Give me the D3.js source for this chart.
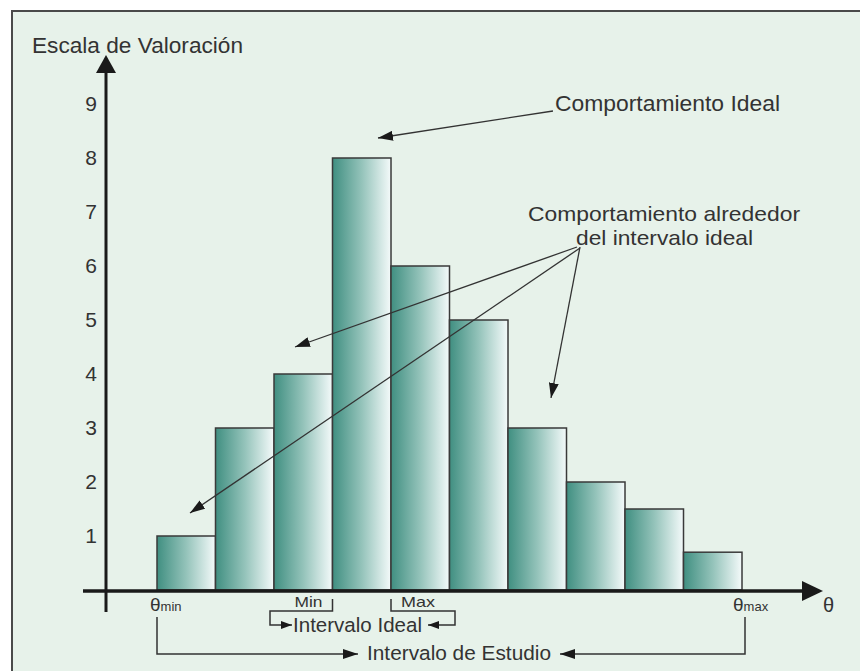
<!DOCTYPE html>
<html>
<head>
<meta charset="utf-8">
<script src="https://cdn.jsdelivr.net/npm/d3@7/dist/d3.min.js"></script>
<style>
  html, body { margin: 0; padding: 0; background: #ffffff; }
  svg { display: block; }
  text { font-family: "Liberation Sans", Arial, Helvetica, sans-serif; fill: #333; }
</style>
</head>
<body>
<svg id="chart" width="860" height="671"></svg>
<script>
// ---- data ----
const categories = ["b1","b2","b3","b4","b5","b6","b7","b8","b9","b10"];
const values = [1, 3, 4, 8, 6, 5, 3, 2, 1.5, 0.7];
const yTicks = [1, 2, 3, 4, 5, 6, 7, 8, 9];
const yTitle = "Escala de Valoración";
const xTitle = "θ";
const noteIdeal = "Comportamiento Ideal";
const noteAround = ["Comportamiento alrededor", "del intervalo ideal"];
const labelIdeal = "Intervalo Ideal";
const labelStudy = "Intervalo de Estudio";

const svg = d3.select("#chart");
const W = 860, H = 671;

// frame & background
svg.append("rect").attr("x", 12).attr("y", 11).attr("width", W).attr("height", H)
  .attr("fill", "#e7f2ea").attr("stroke", "#4a4a4a").attr("stroke-width", 2);

// scales
const x = d3.scaleBand().domain(categories).range([157, 742]).padding(0);
const xc = d3.scaleLinear().domain([0, categories.length]).range([157, 742]); // continuous bin position
const y = d3.scaleLinear().domain([0, 10]).range([590, 50]);

// defs
const defs = svg.append("defs");
const grad = defs.append("linearGradient").attr("id", "barGrad")
  .attr("x1", "0%").attr("x2", "100%").attr("y1", "0%").attr("y2", "0%");
grad.append("stop").attr("offset", "0%").attr("stop-color", "#408f81");
grad.append("stop").attr("offset", "50%").attr("stop-color", "#94c3ba");
grad.append("stop").attr("offset", "100%").attr("stop-color", "#f4fafa");

function marker(id, len, wid) {
  defs.append("marker").attr("id", id)
    .attr("markerUnits", "userSpaceOnUse")
    .attr("viewBox", `0 0 ${len} ${wid}`)
    .attr("refX", len).attr("refY", wid / 2)
    .attr("markerWidth", len).attr("markerHeight", wid)
    .attr("orient", "auto")
    .append("path").attr("d", `M0,0 L${len},${wid/2} L0,${wid} Z`).attr("fill", "#1a1a1a");
}
marker("arr", 15, 10);
marker("arrSmall", 11, 8);

// bars
svg.append("g").selectAll("rect").data(values).join("rect")
  .attr("x", (d, i) => x(categories[i]))
  .attr("y", d => y(d))
  .attr("width", x.bandwidth())
  .attr("height", d => y(0) - y(d))
  .attr("fill", "url(#barGrad)")
  .attr("stroke", "#3a3a3a")
  .attr("stroke-width", 1.5);

// y axis ticks
const yAxis = svg.append("g").attr("transform", "translate(106,0)")
  .call(d3.axisLeft(y).tickValues(yTicks).tickSize(0).tickPadding(9).tickFormat(d3.format("d")));
yAxis.select(".domain").remove();
yAxis.selectAll("text").style("font-size", "21px").style("font-family", '"Liberation Sans", Arial, sans-serif').attr("fill", "#333");

// axis lines with arrows
svg.append("line").attr("x1", 106).attr("x2", 106).attr("y1", 612).attr("y2", 70)
  .attr("stroke", "#1a1a1a").attr("stroke-width", 3);
svg.append("path").attr("d", "M106,55 L96,73 L116,73 Z").attr("fill", "#1a1a1a");
svg.append("line").attr("x1", 83).attr("x2", 805).attr("y1", y(0) + 1).attr("y2", y(0) + 1)
  .attr("stroke", "#1a1a1a").attr("stroke-width", 3.5);
svg.append("path").attr("d", `M823,${y(0)+1} L802,${y(0)-9} L802,${y(0)+11} Z`).attr("fill", "#1a1a1a");

// titles
svg.append("text").attr("x", 32).attr("y", 53).style("font-size", "21.5px")
  .attr("textLength", 211).attr("lengthAdjust", "spacingAndGlyphs").text(yTitle);
svg.append("text").attr("x", 823).attr("y", 612).style("font-size", "20px").text(xTitle);

// theta min / max labels
function thetaLabel(px, sub) {
  const t = svg.append("text").attr("x", px).attr("y", 611);
  t.append("tspan").style("font-size", "19px").text("θ");
  t.append("tspan").style("font-size", "13px").text(sub);
}
thetaLabel(xc(0) - 7, "min");
thetaLabel(xc(10) - 9, "max");

// Min / Max labels
svg.append("text").attr("x", xc(3) - 38).attr("y", 607).style("font-size", "14.5px")
  .attr("textLength", 28).attr("lengthAdjust", "spacingAndGlyphs").text("Min");
svg.append("text").attr("x", xc(4) + 10).attr("y", 607).style("font-size", "14.5px")
  .attr("textLength", 34).attr("lengthAdjust", "spacingAndGlyphs").text("Max");

const lineStyle = sel => sel.attr("fill", "none").attr("stroke", "#333").attr("stroke-width", 1.5);

// Intervalo Ideal brackets
svg.append("path").attr("d", `M${xc(3)},599 L${xc(3)},611 L270,611 L270,625 L292,625`)
  .call(lineStyle).attr("marker-end", "url(#arrSmall)");
svg.append("path").attr("d", `M${xc(4)},599 L${xc(4)},611 L455,611 L455,625 L428,625`)
  .call(lineStyle).attr("marker-end", "url(#arrSmall)");
svg.append("text").attr("x", 293).attr("y", 632).style("font-size", "20.5px")
  .attr("textLength", 129).attr("lengthAdjust", "spacingAndGlyphs").text(labelIdeal);

// Intervalo de Estudio brackets
svg.append("path").attr("d", `M${xc(0)},617 L${xc(0)},654 L358,654`)
  .call(lineStyle).attr("marker-end", "url(#arr)");
svg.append("path").attr("d", `M${xc(10)+3},617 L${xc(10)+3},654 L560,654`)
  .call(lineStyle).attr("marker-end", "url(#arr)");
svg.append("text").attr("x", 367).attr("y", 660).style("font-size", "20.5px")
  .attr("textLength", 184).attr("lengthAdjust", "spacingAndGlyphs").text(labelStudy);

// annotations
svg.append("text").attr("x", 555).attr("y", 111).style("font-size", "21.5px")
  .attr("textLength", 225).attr("lengthAdjust", "spacingAndGlyphs").text(noteIdeal);
svg.append("line").attr("x1", 553).attr("y1", 111).attr("x2", 378).attr("y2", 138)
  .attr("stroke", "#333").attr("stroke-width", 1.3).attr("marker-end", "url(#arr)");

svg.append("text").attr("x", 528).attr("y", 221).style("font-size", "21px")
  .attr("textLength", 272).attr("lengthAdjust", "spacingAndGlyphs").text(noteAround[0]);
svg.append("text").attr("x", 576).attr("y", 245).style("font-size", "21px")
  .attr("textLength", 177).attr("lengthAdjust", "spacingAndGlyphs").text(noteAround[1]);

const aroundTips = [[577, 247, 295, 347], [580, 248, 190, 513], [580, 247, 551, 398]];
svg.append("g").selectAll("line").data(aroundTips).join("line")
  .attr("x1", d => d[0]).attr("y1", d => d[1]).attr("x2", d => d[2]).attr("y2", d => d[3])
  .attr("stroke", "#333").attr("stroke-width", 1.3).attr("marker-end", "url(#arr)");

// white margin outside frame
svg.append("rect").attr("x", 0).attr("y", 0).attr("width", W).attr("height", 10).attr("fill", "#fff");
svg.append("rect").attr("x", 0).attr("y", 0).attr("width", 11).attr("height", H).attr("fill", "#fff");
</script>
</body>
</html>
